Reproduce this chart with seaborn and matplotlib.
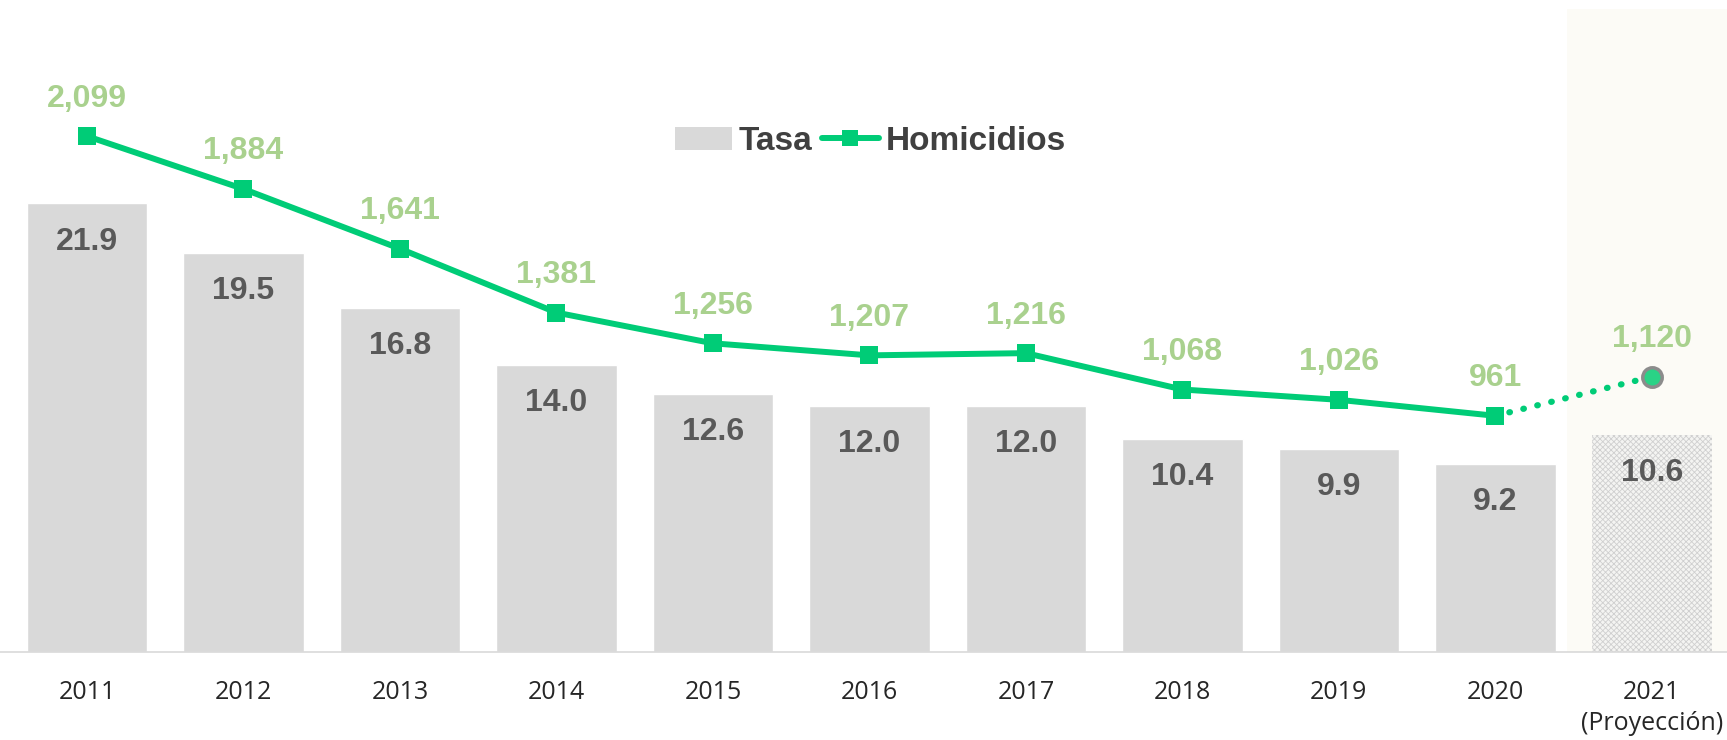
import matplotlib
matplotlib.use("Agg")
import numpy as np
import pandas as pd
import matplotlib.pyplot as plt
import seaborn as sns
from matplotlib.patches import Patch
from matplotlib.lines import Line2D

years = ['2011', '2012', '2013', '2014', '2015', '2016', '2017', '2018', '2019', '2020', '2021']
tasa = [21.9, 19.5, 16.8, 14.0, 12.6, 12.0, 12.0, 10.4, 9.9, 9.2, 10.6]
homicidios = [2099, 1884, 1641, 1381, 1256, 1207, 1216, 1068, 1026, 961, 1120]
tick_labels = years[:-1] + ['2021\n(Proyección)']

bar_color = '#D9D9D9'
line_color = '#00CC77'
label_green = '#A9D18E'
label_gray = '#595959'

sns.set_theme(style='white')
plt.rcParams['font.family'] = ['Liberation Sans', 'DejaVu Sans']
plt.rcParams['hatch.linewidth'] = 0.6

df = pd.DataFrame({'year': years, 'tasa': tasa, 'homicidios': homicidios})
df['pos'] = np.arange(len(df))

fig = plt.figure(figsize=(17.27, 7.40), dpi=100)
ax = fig.add_axes([0, 0.119, 1, 0.869])

ax.axvspan(9.46, 10.6, color='#FCFBF6', zorder=0, lw=0)
sns.barplot(data=df, x='year', y='tasa', color=bar_color, width=0.77,
            saturation=1, ax=ax, zorder=2)
# projected bar is hatched
proj = ax.patches[-1]
proj.set_facecolor('#F4F4F2')
proj.set_edgecolor('#CFCFCF')
proj.set_hatch('xxxxxx')
proj.set_linewidth(0)

for i, v in enumerate(tasa):
    ax.annotate(f'{v:.1f}', (i, v), xytext=(0, -27.5), textcoords='offset points',
                ha='center', va='center', fontsize=23, fontweight='bold',
                color=label_gray, zorder=5)

ax.set_xlim(-0.556, 10.48)
ax.set_ylim(0, 31.4)
ax.set_xlabel('')
ax.set_ylabel('')
ax.set_yticks([])
ax.set_xticks(range(len(years)))
ax.set_xticklabels(tick_labels, fontsize=18, color='#262626',
                   family=['Open Sans', 'DejaVu Sans'], linespacing=1.35)
ax.tick_params(axis='x', length=0, pad=20)
for s in ['top', 'left', 'right']:
    ax.spines[s].set_visible(False)
ax.spines['bottom'].set_color('#D9D9D9')
ax.spines['bottom'].set_linewidth(1.2)

ax2 = ax.twinx()
solid = df.iloc[:-1]
sns.lineplot(data=solid, x='pos', y='homicidios', color=line_color, lw=4.3,
             marker='s', markersize=13, markeredgewidth=0, ax=ax2)
sns.lineplot(data=df.iloc[-2:], x='pos', y='homicidios', color=line_color, lw=4.5,
             linestyle=(0, (0.1, 2.2)), dash_capstyle='round', ax=ax2)
ax2.plot(df['pos'].iloc[-1], homicidios[-1], 'o', color='#2AD386', markersize=14,
         markeredgecolor='#8C8C8C', markeredgewidth=2.5, zorder=5)

for i, v in enumerate(homicidios):
    ax2.annotate(f'{v:,}', (i, v), xytext=(0, 27), textcoords='offset points',
                 ha='center', va='center', fontsize=23, fontweight='bold',
                 color=label_green)

ax2.set_ylim(0, 2617)
ax2.set_yticks([])
ax2.set_ylabel('')
ax2.set_xlabel('')
for s in ax2.spines.values():
    s.set_visible(False)

handles = [Patch(facecolor=bar_color, edgecolor='none'),
           Line2D([], [], color=line_color, lw=4.3, marker='s', markersize=12,
                  markeredgewidth=0, solid_capstyle='round')]
fig.legend(handles, ['Tasa', 'Homicidios'], loc='center', bbox_to_anchor=(0.504, 0.809),
           ncol=2, frameon=False, handlelength=1.7, handletextpad=0.2,
           columnspacing=0.3, prop={'size': 24, 'weight': 'bold'}, labelcolor='#404040')

fig.savefig('out.png', dpi=100)
